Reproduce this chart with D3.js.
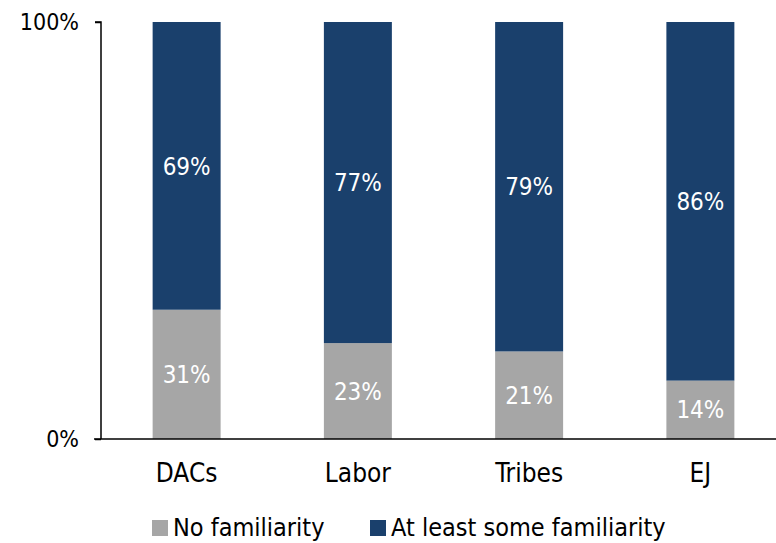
<!DOCTYPE html>
<html>
<head>
<meta charset="utf-8">
<script src="https://cdn.jsdelivr.net/npm/d3@7"></script>
<style>
  html, body { margin: 0; padding: 0; background: #ffffff; }
  svg { display: block; font-family: "DejaVu Sans Condensed", "DejaVu Sans", Verdana, sans-serif; font-stretch: condensed; }
</style>
</head>
<body>
<svg id="chart" width="776" height="543"></svg>
<script>
// Survey groups and share of respondents by familiarity level (%)
const categories = ["DACs", "Labor", "Tribes", "EJ"];
const noFamiliarity = [31, 23, 21, 14];
const someFamiliarity = [69, 77, 79, 86];
const seriesNames = ["No familiarity", "At least some familiarity"];
const seriesColors = ["#a6a6a6", "#1a406c"];
const yTicks = [0, 100];

const FONT = '"DejaVu Sans Condensed", "DejaVu Sans", Verdana, sans-serif';
const svg = d3.select("#chart");
const margin = { left: 101, right: -10, top: 22, bottom: 104 };
const W = 776, H = 543;

const x = d3.scaleBand()
  .domain(categories)
  .range([margin.left, W - margin.right])
  .paddingInner(0.603)
  .paddingOuter(0.3015);

const y = d3.scaleLinear()
  .domain([0, 100])
  .range([H - margin.bottom, margin.top]);

// Stack the two series so each column sums to 100%
const rows = categories.map((c, i) => ({ cat: c, none: noFamiliarity[i], some: someFamiliarity[i] }));
const stack = d3.stack().keys(["none", "some"]);
const layers = stack(rows);

const g = svg.append("g");
layers.forEach((layer, li) => {
  const lg = g.append("g");
  lg.selectAll("rect")
    .data(layer)
    .join("rect")
    .attr("x", d => x(d.data.cat))
    .attr("width", x.bandwidth())
    .attr("y", d => y(d[1]))
    .attr("height", d => y(d[0]) - y(d[1]))
    .attr("fill", seriesColors[li]);
  lg.selectAll("text")
    .data(layer)
    .join("text")
    .attr("x", d => x(d.data.cat) + x.bandwidth() / 2)
    .attr("y", d => (y(d[0]) + y(d[1])) / 2)
    .attr("dy", "0.36em")
    .attr("text-anchor", "middle")
    .attr("fill", "#ffffff")
    .attr("font-size", 24)
    .text(d => (d[1] - d[0]) + "%");
});

// Y axis
const yAxis = d3.axisLeft(y)
  .tickValues(yTicks)
  .tickFormat(d => d + "%")
  .tickSize(6)
  .tickPadding(16);
const ya = svg.append("g")
  .attr("transform", `translate(${margin.left},0)`)
  .call(yAxis);
ya.select(".domain").attr("stroke", "#000").attr("stroke-width", 1.5).attr("d", `M-6,${y(100)}H0V${y(0)}`);
ya.selectAll(".tick line").attr("stroke", "#000").attr("stroke-width", 1.5);
ya.selectAll(".tick text").attr("font-size", 23).attr("fill", "#000").attr("font-family", FONT);

// X axis
const xAxis = d3.axisBottom(x).tickSize(0).tickPadding(25);
const xa = svg.append("g")
  .attr("transform", `translate(0,${y(0)})`)
  .call(xAxis);
xa.select(".domain").attr("stroke", "#000").attr("stroke-width", 1.5).attr("d", `M${margin.left - 7},0H${W}`);
xa.selectAll(".tick text").attr("font-size", 26).attr("fill", "#000").attr("font-family", FONT);

// Legend
const legendX = [152, 370];
const legend = svg.append("g").attr("transform", "translate(0,527)");
seriesNames.forEach((name, i) => {
  legend.append("rect")
    .attr("x", legendX[i]).attr("y", -7)
    .attr("width", 16).attr("height", 16)
    .attr("fill", seriesColors[i]);
  legend.append("text")
    .attr("x", legendX[i] + 21).attr("y", 0)
    .attr("dy", "0.36em")
    .attr("font-size", 25)
    .attr("fill", "#000")
    .text(name);
});
</script>
</body>
</html>
